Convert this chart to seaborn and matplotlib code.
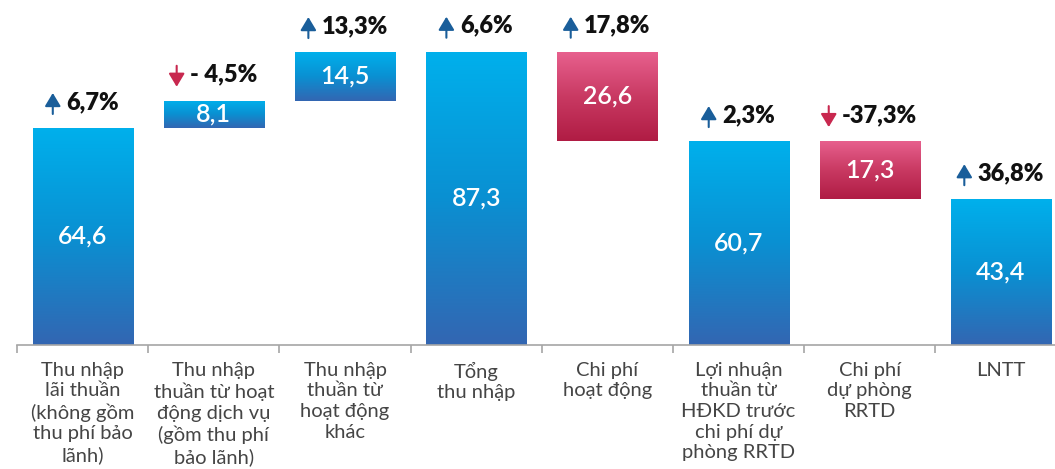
import numpy as np
import matplotlib
matplotlib.use("Agg")
import matplotlib.pyplot as plt
import matplotlib.transforms as mtransforms
from matplotlib.colors import LinearSegmentedColormap
import pandas as pd
import seaborn as sns

# data
categories = [
    "Thu nhập\nlãi thuần\n(không gồm\nthu phí bảo\nlãnh)",
    "Thu nhập\nthuần từ hoạt\nđộng dịch vụ\n(gồm thu phí\nbảo lãnh)",
    "Thu nhập\nthuần từ\nhoạt động\nkhác",
    "Tổng\nthu nhập",
    "Chi phí\nhoạt động",
    "Lợi nhuận\nthuần từ\nHĐKD trước\nchi phí dự\nphòng RRTD",
    "Chi phí\ndự phòng\nRRTD",
    "LNTT",
]
values = [64.6, 8.1, 14.5, 87.3, 26.6, 60.7, 17.3, 43.4]
kinds = ["total", "up", "up", "total", "down", "total", "down", "total"]
value_labels = ["64,6", "8,1", "14,5", "87,3", "26,6", "60,7", "17,3", "43,4"]
changes = ["6,7%", "- 4,5%", "13,3%", "6,6%", "17,8%", "2,3%", "-37,3%", "36,8%"]
change_dirs = ["up", "down", "up", "up", "up", "up", "down", "up"]

# waterfall bottoms
bottoms = []
running = 0.0
for v, k in zip(values, kinds):
    if k == "total":
        bottoms.append(0.0)
        running = v
    elif k == "up":
        bottoms.append(running)
        running += v
    else:
        running -= v
        bottoms.append(running)

df = pd.DataFrame({"cat": categories, "value": values, "bottom": bottoms, "kind": kinds})

sns.set_theme(style="white")
plt.rcParams["font.family"] = ["Lato", "DejaVu Sans"]

W, H = 1055, 469
fig = plt.figure(figsize=(W / 100, H / 100), dpi=100)
ax = fig.add_axes([17 / W, 124 / H, 1049.6 / W, 345 / H])

sns.barplot(data=df, x="cat", y="value", bottom=df["bottom"].values, width=0.763,
            color="#2f67b1", ax=ax)

blue = LinearSegmentedColormap.from_list("b", ["#00b0ec", "#0a90d2", "#3366b2"])
pink = LinearSegmentedColormap.from_list("p", ["#e8618f", "#c93a63", "#b01c44"])
grad = np.linspace(0, 1, 256).reshape(-1, 1)

for i, p in enumerate(ax.patches):
    x0, y0 = p.get_x(), p.get_y()
    x1, y1 = x0 + p.get_width(), y0 + p.get_height()
    cmap = pink if kinds[i] == "down" else blue
    im = ax.imshow(grad, cmap=cmap, extent=(x0, x1, y0, y1), origin="upper",
                   aspect="auto", zorder=2)
    im.set_clip_path(p)
    p.set_facecolor("none")
    p.set_edgecolor("none")
    ax.text(i, bottoms[i] + values[i] / 2, value_labels[i], ha="center", va="center",
            color="white", fontsize=18, fontweight="semibold", zorder=3)

ax.set_xlim(-0.5, len(categories) - 0.5)
ax.set_ylim(0, 102.7)

# change labels with arrows
pct_texts = []
for i in range(len(values)):
    top = bottoms[i] + values[i]
    t = ax.text(i, top, changes[i], ha="left", va="baseline", fontsize=17,
                fontweight="heavy", color="#111111", zorder=3)
    pct_texts.append(t)

fig.canvas.draw()
r = fig.canvas.get_renderer()
gap = 7
aw = 13
for i, t in enumerate(pct_texts):
    top = bottoms[i] + values[i]
    tw = t.get_window_extent(r).width
    total = aw + gap + tw
    left = -total / 2
    t.set_transform(mtransforms.offset_copy(ax.transData, fig, left + aw + gap, 19, units="dots"))
    up = change_dirs[i] == "up"
    col = "#1a5e9a" if up else "#c8284f"
    lo = mtransforms.offset_copy(ax.transData, fig, left + aw / 2, 14, units="dots")
    hi = mtransforms.offset_copy(ax.transData, fig, left + aw / 2, 35, units="dots")
    ax.annotate("", xy=(i, top), xycoords=hi if up else lo,
                xytext=(i, top), textcoords=lo if up else hi,
                arrowprops=dict(arrowstyle="-|>,head_length=0.5,head_width=0.3",
                                color=col, lw=1.5, shrinkA=0, shrinkB=0,
                                mutation_scale=16),
                zorder=3)

# axis styling
sns.despine(ax=ax, left=True)
ax.spines["bottom"].set_color("#a6a6a6")
ax.spines["bottom"].set_linewidth(1.2)
ax.set_yticks([])
ax.set_xlabel("")
ax.set_ylabel("")
ax.set_xticks(np.arange(-0.5, len(categories), 1), minor=True)
ax.tick_params(axis="x", which="minor", length=6, width=1.2, color="#a6a6a6", bottom=True)
ax.tick_params(axis="x", which="major", length=0, pad=12, labelsize=14.5, labelcolor="#454545")
for lab in ax.get_xticklabels():
    lab.set_linespacing(1.26)

fig.savefig("out.png", dpi=100)
